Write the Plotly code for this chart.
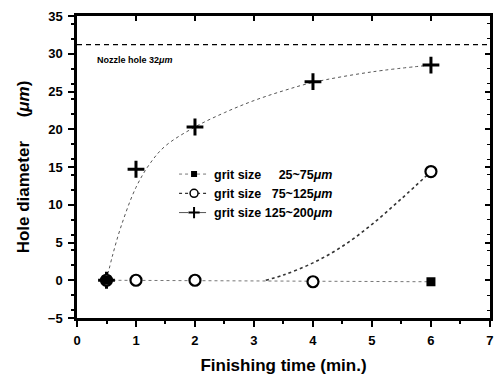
import plotly.graph_objects as go

# ---- data ----
time_small = [0.5, 6]
dia_small = [0, -0.2]

time_mid = [0.5, 1, 2, 4, 6]
dia_mid = [0, 0, 0, -0.2, 14.4]

time_large = [0.5, 1, 2, 4, 6]
dia_large = [0, 14.7, 20.3, 26.3, 28.5]

# fitted curves
fit_mid_x = [3.2, 3.5, 4.0, 4.5, 5.0, 5.5, 6.0]
fit_mid_y = [0, 0.7, 2.3, 4.5, 7.4, 10.8, 14.4]

fit_large_x = [0.5, 0.6, 0.75, 1.0, 1.25, 1.5, 2.0, 2.5, 3.0, 3.5, 4.0, 5.0, 6.0]
fit_large_y = [0, 3.2, 7.2, 12.3, 15.6, 17.8, 20.3, 22.2, 23.8, 25.1, 26.2, 27.6, 28.5]

nozzle_x = [0, 7]
nozzle_y = [31.2, 31.2]

x_ticks = [0, 1, 2, 3, 4, 5, 6, 7]
y_ticks = [-5, 0, 5, 10, 15, 20, 25, 30, 35]

NB = "\u00a0"
legend_names = ["grit size " + NB * 4 + "25~75<i>μm</i>",
                "grit size " + NB * 2 + "75~125<i>μm</i>",
                "grit size 125~200<i>μm</i>"]

FONT = "Liberation Sans, Arial, sans-serif"
LC = "#555555"

fig = go.Figure()

# nozzle line
fig.add_trace(go.Scatter(x=nozzle_x, y=nozzle_y, mode="lines",
                         line=dict(color="black", width=1.2, dash="5px,4px"),
                         showlegend=False, hoverinfo="skip"))

# fit curves
fig.add_trace(go.Scatter(x=fit_mid_x, y=fit_mid_y, mode="lines", line_shape="spline",
                         line=dict(color="#333333", width=1.6, dash="dot"),
                         showlegend=False))
fig.add_trace(go.Scatter(x=fit_large_x, y=fit_large_y, mode="lines", line_shape="spline",
                         line=dict(color=LC, width=1, dash="dot"),
                         showlegend=False))

# series 1 line
fig.add_trace(go.Scatter(x=time_small, y=dia_small, mode="lines",
                         line=dict(color="#777777", width=1, dash="dot"),
                         showlegend=False))

# data markers
fig.add_trace(go.Scatter(x=time_large, y=dia_large, mode="markers",
                         marker=dict(symbol="cross-thin", size=12, color="black",
                                     line=dict(width=3, color="black")),
                         showlegend=False))
fig.add_trace(go.Scatter(x=time_mid, y=dia_mid, mode="markers",
                         marker=dict(symbol="circle", size=11, color="white",
                                     line=dict(width=2.2, color="black")),
                         showlegend=False))
fig.add_trace(go.Scatter(x=time_small, y=dia_small, mode="markers",
                         marker=dict(symbol="square", size=9, color="black"),
                         showlegend=False))

# legend-only entries
fig.add_trace(go.Scatter(x=[None], y=[None], mode="lines+markers", name=legend_names[0],
                         line=dict(color="#777777", width=1, dash="dot"),
                         marker=dict(symbol="square", size=6, color="black")))
fig.add_trace(go.Scatter(x=[None], y=[None], mode="lines+markers", name=legend_names[1],
                         line=dict(color="#333333", width=1.2, dash="dot"),
                         marker=dict(symbol="circle", size=8, color="white",
                                     line=dict(width=1.5, color="black"))))
fig.add_trace(go.Scatter(x=[None], y=[None], mode="lines+markers", name=legend_names[2],
                         line=dict(color=LC, width=1, dash="dashdot"),
                         marker=dict(symbol="cross-thin", size=8, color="black",
                                     line=dict(width=2, color="black"))))

axis_common = dict(showgrid=False, zeroline=False, showline=True, linecolor="black",
                   linewidth=2.5, ticks="outside", ticklen=6, tickwidth=2,
                   tickcolor="black", automargin=False, ticklabelstandoff=3,
                   tickfont=dict(family=FONT, size=13, color="black", weight="bold"),
                   minor=dict(ticks="outside", ticklen=3, tickwidth=1.5, tickcolor="black"))

fig.update_layout(
    width=499, height=377,
    margin=dict(l=77, r=9, t=16, b=59),
    paper_bgcolor="white", plot_bgcolor="white",
    font=dict(family=FONT, color="black"),
    xaxis=dict(range=[0, 7.001], tickvals=x_ticks, **axis_common,
               title=dict(text="Finishing time (min.)",
                          font=dict(family=FONT, size=17, color="black", weight="bold"),
                          standoff=12)),
    yaxis=dict(range=[-5, 35.001], tickvals=y_ticks, **axis_common,
               title=dict(text="Hole diameter" + NB * 5 + "(<i>μm</i>)" + NB * 2,
                          font=dict(family=FONT, size=17, color="black", weight="bold"),
                          standoff=14)),
    xaxis2=dict(range=[0, 7.001], overlaying="x", side="top", showline=True, linecolor="black",
                linewidth=2.5, ticks="inside", ticklen=5, tickwidth=1.5, tickcolor="black",
                tickvals=x_ticks, showticklabels=False, showgrid=False,
                zeroline=False, automargin=False),
    yaxis2=dict(range=[-5, 35.001], overlaying="y", side="right", showline=True, linecolor="black",
                linewidth=2.5, ticks="inside", ticklen=5, tickwidth=1.5, tickcolor="black",
                tickvals=y_ticks, showticklabels=False, automargin=False,
                showgrid=False, zeroline=False,
                minor=dict(ticks="inside", ticklen=3, tickwidth=1, tickcolor="black")),
    legend=dict(x=0.235, y=0.525, xanchor="left", yanchor="top",
                bgcolor="rgba(0,0,0,0)", borderwidth=0,
                font=dict(family=FONT, size=12.5, color="black", weight="bold"),
                tracegroupgap=0, itemwidth=30),
    annotations=[dict(x=0.3, y=29.2, xref="x", yref="y", xanchor="left", yanchor="middle",
                      text="Nozzle hole 32<i>μm</i>", showarrow=False,
                      font=dict(family=FONT, size=9, color="black", weight="bold"))],
)

# dummy trace to activate secondary axes
fig.add_trace(go.Scatter(x=[None], y=[None], xaxis="x2", yaxis="y2", showlegend=False))

fig.write_html("out.html", config={"displayModeBar": False},
               post_script="document.body.style.margin='0';document.body.style.overflow='hidden';")
